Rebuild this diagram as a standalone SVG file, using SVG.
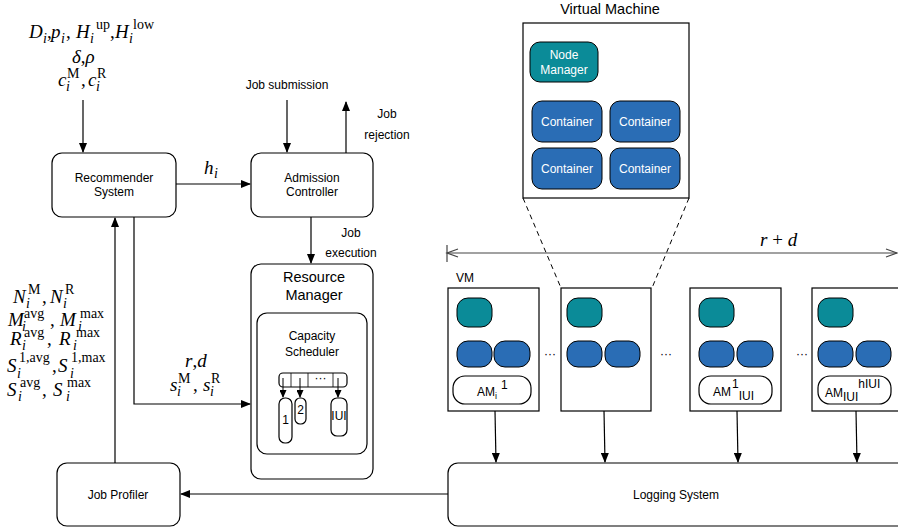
<svg xmlns="http://www.w3.org/2000/svg" width="898" height="529" viewBox="0 0 898 529">
<defs>
<style>
.box{fill:#fff;stroke:#000;stroke-width:1.2}
.lbl{font-family:"Liberation Sans",Arial,sans-serif;font-size:12px;fill:#000}
.big{font-family:"Liberation Sans",Arial,sans-serif;font-size:14.5px;fill:#000}
.wl{font-family:"Liberation Sans",Arial,sans-serif;font-size:12px;fill:#fff}
.m{font-family:"Liberation Serif","Times New Roman",serif;font-size:19px;font-style:italic;fill:#000}
.mu{font-family:"Liberation Serif","Times New Roman",serif;font-size:19px;fill:#000}
.s{font-family:"Liberation Serif","Times New Roman",serif;font-size:14px;fill:#000}
.si{font-family:"Liberation Serif","Times New Roman",serif;font-size:14px;font-style:italic;fill:#000}
.ln{fill:none;stroke:#000;stroke-width:1.2}
.teal{fill:#0b8b98;stroke:#000;stroke-width:1}
.blue{fill:#2a6db5;stroke:#000;stroke-width:1}
.vm{fill:#fff;stroke:#000;stroke-width:1.2}
.dash{fill:none;stroke:#000;stroke-width:1;stroke-dasharray:5,4}
.dots{font-family:"Liberation Sans",Arial,sans-serif;font-size:12px;fill:#000}
</style>
<marker id="ah" markerWidth="10" markerHeight="8" refX="9" refY="4" orient="auto" markerUnits="userSpaceOnUse">
<path d="M0,0 L10,4 L0,8 Z" fill="#000"/>
</marker>
<marker id="ahs" markerWidth="8" markerHeight="7" refX="7" refY="3.5" orient="auto" markerUnits="userSpaceOnUse">
<path d="M0,0 L8,3.5 L0,7 Z" fill="#000"/>
</marker>
</defs>

<!-- Connectors -->
<g id="connectors">
<line class="ln" x1="83" y1="100" x2="83" y2="152" marker-end="url(#ah)"/>
<line class="ln" x1="176" y1="184" x2="250" y2="184" marker-end="url(#ah)"/>
<line class="ln" x1="287" y1="100" x2="287" y2="152" marker-end="url(#ah)"/>
<line class="ln" x1="346" y1="153" x2="346" y2="102" marker-end="url(#ah)"/>
<line class="ln" x1="311" y1="217" x2="311" y2="263" marker-end="url(#ah)"/>
<line class="ln" x1="115" y1="463" x2="115" y2="218" marker-end="url(#ah)"/>
<polyline class="ln" points="134,217 134,404 250,404" marker-end="url(#ah)"/>
<line class="ln" x1="448" y1="494" x2="181" y2="494" marker-end="url(#ah)"/>
<line class="ln" x1="495" y1="411" x2="496" y2="462" marker-end="url(#ah)"/>
<line class="ln" x1="604" y1="411" x2="605" y2="462" marker-end="url(#ah)"/>
<line class="ln" x1="737" y1="411" x2="738" y2="462" marker-end="url(#ah)"/>
<line class="ln" x1="856" y1="411" x2="857" y2="462" marker-end="url(#ah)"/>
<line class="dash" x1="523" y1="198" x2="561" y2="288"/>
<line class="dash" x1="689" y1="198" x2="652" y2="288"/>
<g stroke="#444" stroke-width="1.2" fill="none">
<line x1="447" y1="253" x2="897" y2="253"/>
<line x1="447" y1="245" x2="447" y2="262"/>
<polyline points="458,249 447,253 458,257"/>
<polyline points="886,249 897,253 886,257"/>
</g>
</g>

<!-- Text labels for connectors -->
<g id="connector-labels">
<text class="lbl" x="287" y="89" text-anchor="middle">Job submission</text>
<text class="lbl" x="387" y="118" text-anchor="middle">Job</text>
<text class="lbl" x="387" y="139" text-anchor="middle">rejection</text>
<text class="lbl" x="351" y="237" text-anchor="middle">Job</text>
<text class="lbl" x="351" y="257" text-anchor="middle">execution</text>
<text class="m" x="204" y="174" font-size="20">h</text><text class="si" x="214" y="178">i</text>
<text class="m" x="760" y="246" font-size="24">r <tspan font-style="normal">+</tspan> d</text>
<text class="m" x="185" y="367" font-size="24">r<tspan font-style="normal">,</tspan>d</text>
<text class="m" x="170" y="391">s</text><text class="s" x="178" y="383">M</text><text class="si" x="177" y="396">i</text>
<text class="mu" x="193" y="391">,</text>
<text class="m" x="203" y="391">s</text><text class="s" x="211" y="383">R</text><text class="si" x="210" y="396">i</text>
</g>

<!-- Top-left parameters -->
<g id="params-top">
<text class="m" x="29" y="38">D</text><text class="si" x="43" y="43">i</text>
<text class="mu" x="47" y="38">,</text>
<text class="m" x="51" y="38">p</text><text class="si" x="61" y="43">i</text>
<text class="mu" x="66" y="38">,</text>
<text class="m" x="76" y="38">H</text><text class="s" x="96" y="29">up</text><text class="si" x="90" y="43">i</text>
<text class="mu" x="110" y="38">,</text>
<text class="m" x="115" y="38">H</text><text class="s" x="133" y="29">low</text><text class="si" x="129" y="43">i</text>
<text class="m" x="72" y="63">δ<tspan font-style="normal">,</tspan>ρ</text>
<text class="m" x="58" y="86">c</text><text class="s" x="67" y="78">M</text><text class="si" x="66" y="91">i</text>
<text class="mu" x="81" y="86">,</text>
<text class="m" x="88" y="86">c</text><text class="s" x="97" y="78">R</text><text class="si" x="96" y="91">i</text>
</g>

<!-- Left parameters -->
<g id="params-left">
<text class="m" x="13" y="303">N</text><text class="s" x="28" y="294">M</text><text class="si" x="26" y="308">i</text>
<text class="mu" x="42" y="303">,</text>
<text class="m" x="50" y="303">N</text><text class="s" x="65" y="294">R</text><text class="si" x="63" y="308">i</text>

<text class="m" x="8" y="326">M</text><text class="s" x="24" y="318">avg</text><text class="si" x="22" y="331">i</text>
<text class="mu" x="50" y="326">,</text>
<text class="m" x="60" y="326">M</text><text class="s" x="80" y="318">max</text><text class="si" x="78" y="331">i</text>

<text class="m" x="10" y="345">R</text><text class="s" x="24" y="337">avg</text><text class="si" x="22" y="350">i</text>
<text class="mu" x="47" y="345">,</text>
<text class="m" x="59" y="345">R</text><text class="s" x="76" y="337">max</text><text class="si" x="73" y="350">i</text>

<text class="m" x="7" y="372">S</text><text class="s" x="19" y="362">1,avg</text><text class="si" x="17" y="378">i</text>
<text class="mu" x="52" y="372">,</text>
<text class="m" x="58" y="372">S</text><text class="s" x="71" y="362">1,max</text><text class="si" x="70" y="378">i</text>

<text class="m" x="7" y="396">S</text><text class="s" x="20" y="387">avg</text><text class="si" x="18" y="401">i</text>
<text class="mu" x="42" y="396">,</text>
<text class="m" x="53" y="396">S</text><text class="s" x="67" y="387">max</text><text class="si" x="66" y="401">i</text>
</g>

<g id="recommender">
<rect class="box" x="52" y="153" width="124" height="64" rx="10"/>
<text class="lbl" x="114" y="182" text-anchor="middle">Recommender</text>
<text class="lbl" x="114" y="196" text-anchor="middle">System</text>
</g>

<g id="admission">
<rect class="box" x="251" y="153" width="122" height="64" rx="10"/>
<text class="lbl" x="312" y="182" text-anchor="middle">Admission</text>
<text class="lbl" x="312" y="196" text-anchor="middle">Controller</text>
</g>

<g id="resource-manager">
<rect class="box" x="251" y="264" width="122" height="215" rx="10"/>
<text class="big" x="314" y="282" text-anchor="middle">Resource</text>
<text class="big" x="314" y="300" text-anchor="middle">Manager</text>
</g>

<g id="capacity-scheduler">
<rect class="box" x="257" y="313" width="110" height="141" rx="10"/>
<text class="lbl" x="312" y="340" text-anchor="middle">Capacity</text>
<text class="lbl" x="312" y="356" text-anchor="middle">Scheduler</text>
<rect class="box" x="279" y="373" width="68" height="14" rx="4" stroke-width="1"/>
<g stroke="#000" stroke-width="0.8">
<line x1="291" y1="373" x2="291" y2="387"/>
<line x1="308" y1="373" x2="308" y2="387"/>
<line x1="333" y1="373" x2="333" y2="387"/>
</g>
<text class="dots" x="320.5" y="382" text-anchor="middle" font-size="10">···</text>
<g stroke="#000" stroke-width="1">
<line x1="283" y1="378" x2="283" y2="397" marker-end="url(#ahs)"/>
<line x1="300" y1="378" x2="300" y2="397" marker-end="url(#ahs)"/>
<line x1="338" y1="378" x2="338" y2="397" marker-end="url(#ahs)"/>
</g>
<rect class="box" x="279" y="398" width="13" height="45" rx="6" stroke-width="1"/>
<rect class="box" x="295" y="398" width="11" height="26" rx="5" stroke-width="1"/>
<rect class="box" x="331" y="398" width="16" height="38" rx="6" stroke-width="1"/>
<text class="lbl" x="285.5" y="424" text-anchor="middle" font-size="8">1</text>
<text class="lbl" x="300.5" y="414" text-anchor="middle" font-size="9">2</text>
<text class="lbl" x="339" y="420" text-anchor="middle" font-size="9">IUI</text>
</g>

<g id="job-profiler">
<rect class="box" x="57" y="463" width="123" height="63" rx="10"/>
<text class="lbl" x="118" y="499" text-anchor="middle">Job Profiler</text>
</g>

<g id="logging-system">
<rect class="box" x="448" y="463" width="470" height="63" rx="10"/>
<text class="lbl" x="676" y="499" text-anchor="middle">Logging System</text>
</g>

<g id="virtual-machine">
<text class="big" x="610" y="14" text-anchor="middle" font-size="13">Virtual Machine</text>
<rect class="vm" x="523" y="23" width="166" height="175" stroke="#333"/>
<rect class="teal" x="530" y="42" width="68" height="40" rx="10"/>
<text class="wl" x="564" y="59" text-anchor="middle">Node</text>
<text class="wl" x="564" y="74" text-anchor="middle">Manager</text>
<rect class="blue" x="532" y="101" width="70" height="41" rx="10"/>
<rect class="blue" x="610" y="101" width="70" height="41" rx="10"/>
<rect class="blue" x="532" y="148" width="70" height="41" rx="10"/>
<rect class="blue" x="610" y="148" width="70" height="41" rx="10"/>
<text class="wl" x="567" y="126" text-anchor="middle">Container</text>
<text class="wl" x="645" y="126" text-anchor="middle">Container</text>
<text class="wl" x="567" y="173" text-anchor="middle">Container</text>
<text class="wl" x="645" y="173" text-anchor="middle">Container</text>
</g>

<g id="vm1">
<text class="lbl" x="456" y="282" font-size="11">VM</text>
<rect class="vm" x="448" y="288" width="91" height="123"/>
<rect class="teal" x="457" y="298" width="35" height="29" rx="11"/>
<rect class="blue" x="457" y="341" width="35" height="26" rx="11"/>
<rect class="blue" x="494" y="341" width="36" height="26" rx="11"/>
<rect class="box" x="453" y="376" width="78" height="28" rx="12" stroke-width="1"/>
<text class="lbl" x="477" y="396">AM<tspan font-size="9" dy="3">i</tspan><tspan dx="4" dy="-10">1</tspan></text>
</g>

<g id="vm2">
<rect class="vm" x="561" y="288" width="90" height="123"/>
<rect class="teal" x="567" y="298" width="35" height="29" rx="11"/>
<rect class="blue" x="567" y="341" width="35" height="26" rx="11"/>
<rect class="blue" x="605" y="341" width="35" height="26" rx="11"/>
</g>

<g id="vm3">
<rect class="vm" x="690" y="288" width="91" height="123"/>
<rect class="teal" x="699" y="298" width="35" height="29" rx="11"/>
<rect class="blue" x="699" y="341" width="35" height="26" rx="11"/>
<rect class="blue" x="737" y="341" width="36" height="26" rx="11"/>
<rect class="box" x="699" y="376" width="73" height="28" rx="12" stroke-width="1"/>
<text class="lbl" x="713" y="396">AM<tspan dx="1" dy="-8">1</tspan><tspan dx="0" dy="12">IUI</tspan></text>
</g>

<g id="vm4">
<rect class="vm" x="812" y="288" width="91" height="123"/>
<rect class="teal" x="818" y="298" width="35" height="29" rx="11"/>
<rect class="blue" x="818" y="341" width="35" height="26" rx="11"/>
<rect class="blue" x="856" y="341" width="35" height="26" rx="11"/>
<rect class="box" x="818" y="376" width="73" height="28" rx="12" stroke-width="1"/>
<text class="lbl" x="825" y="397">AM<tspan dy="4">IUI</tspan><tspan dy="-13">hIUI</tspan></text>
</g>

<g id="ellipses">
<text class="dots" x="550" y="358" text-anchor="middle">···</text>
<text class="dots" x="666" y="358" text-anchor="middle">···</text>
<text class="dots" x="802" y="358" text-anchor="middle">···</text>
</g>
</svg>
